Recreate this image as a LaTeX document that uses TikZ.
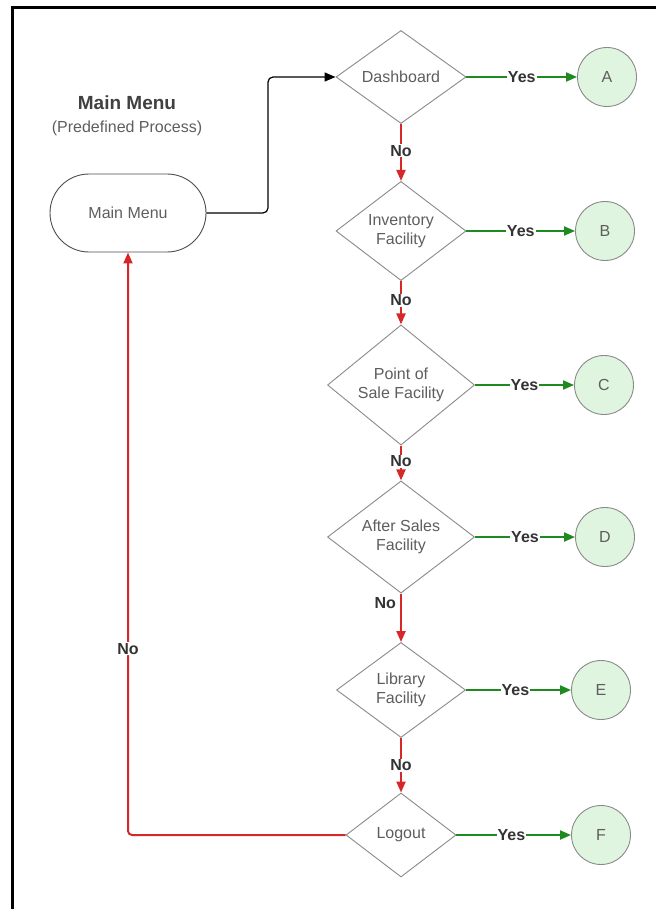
\documentclass[tikz,border=0pt]{standalone}
\usepackage{fontspec}
\setmainfont{Liberation Sans}
\usetikzlibrary{shapes.geometric,arrows.meta}
\definecolor{txtgray}{HTML}{5E5E5E}
\definecolor{lblgray}{HTML}{333333}
\definecolor{edgegray}{HTML}{8A8A8A}
\definecolor{yesgreen}{HTML}{1F8A1F}
\definecolor{nored}{HTML}{D62828}
\definecolor{endfill}{HTML}{E0F5E0}
\tikzset{
  base/.style={font=\fontsize{16}{19}\selectfont, text=txtgray, align=center},
  decision/.style={base, diamond, draw=edgegray, line width=0.9pt, fill=white, inner sep=0pt},
  terminal/.style={base, draw=edgegray, line width=0.9pt, circle, fill=endfill, minimum size=59pt, inner sep=0pt},
  process/.style={base, draw=black!70, line width=0.9pt, rounded corners=39pt, minimum width=156pt, minimum height=78pt},
  yesline/.style={draw=yesgreen, line width=2pt, -{Triangle[length=11pt,width=9pt]}},
  noline/.style={draw=nored, line width=2pt, -{Triangle[length=11pt,width=9pt]}},
  lbl/.style={font=\bfseries\fontsize{16}{19}\selectfont, text=lblgray, fill=white, inner sep=1pt},
}
\begin{document}
\begin{tikzpicture}[x=1pt,y=-1pt]
  \useasboundingbox (0,0) rectangle (656,909);
  % outer frame (top and left edges)
  \draw[black, line width=3pt] (656,7.5) -- (12.5,7.5) -- (12.5,909);

  % heading
  \node[font=\bfseries\fontsize{19}{22}\selectfont, text=black!75] (title) at (127,103) {Main Menu};
  \node[base, text=txtgray] (subtitle) at (127,128) {(Predefined Process)};

  % main menu process
  \node[process] (menu) at (128,213) {Main Menu};

  % decisions
  \node[decision, minimum width=130pt, minimum height=93pt] (dash) at (401,77) {Dashboard};
  \node[decision, minimum width=130pt, minimum height=98pt] (inv) at (401,231) {Inventory\\Facility};
  \node[decision, minimum width=147pt, minimum height=98pt] (pos) at (401,385) {Point of\\Sale Facility};
  \node[decision, minimum width=147pt, minimum height=91pt] (after) at (401,537) {After Sales\\Facility};
  \node[decision, minimum width=129pt, minimum height=95pt] (lib) at (401,690) {Library\\Facility};
  \node[decision, minimum width=110pt, minimum height=84pt] (logout) at (401,835) {Logout};

  % end connectors
  \node[terminal] (A) at (607,77) {A};
  \node[terminal] (B) at (605,231) {B};
  \node[terminal] (C) at (604,385) {C};
  \node[terminal] (D) at (605,537) {D};
  \node[terminal] (E) at (601,690) {E};
  \node[terminal] (F) at (601,835) {F};

  % menu to dashboard
  \coordinate (bendlow) at (268,213);
  \coordinate (bendhigh) at (268,77);
  \draw[draw=black!60, line width=1.2pt, rounded corners=5pt, -{Triangle[length=11pt,width=9pt]}, black]
    (menu.east) -- (bendlow) -- (bendhigh) -- (dash.west);

  % yes branches
  \draw[yesline] (dash.east) -- node[lbl] {Yes} (A.west);
  \draw[yesline] (inv.east) -- node[lbl] {Yes} (B.west);
  \draw[yesline] (pos.east) -- node[lbl] {Yes} (C.west);
  \draw[yesline] (after.east) -- node[lbl] {Yes} (D.west);
  \draw[yesline] (lib.east) -- node[lbl, pos=0.47] {Yes} (E.west);
  \draw[yesline] (logout.east) -- node[lbl, pos=0.48] {Yes} (F.west);

  % no branches
  \draw[noline] (dash.south) -- node[lbl, pos=0.47] {No} (inv.north);
  \draw[noline] (inv.south) -- node[lbl, pos=0.45] {No} (pos.north);
  \draw[noline] (pos.south) -- node[lbl, pos=0.45] {No} (after.north);
  \draw[noline] (after.south) -- node[lbl, fill=none, pos=0.2, left=3pt] {No} (lib.north);
  \draw[noline] (lib.south) -- node[lbl, pos=0.5] {No} (logout.north);

  % logout "no" returns to the menu
  \coordinate (loopcorner) at (128,835);
  \draw[noline, rounded corners=4pt] (logout.west) -- (loopcorner) -- node[lbl, pos=0.32] {No} (menu.south);
\end{tikzpicture}
\end{document}
